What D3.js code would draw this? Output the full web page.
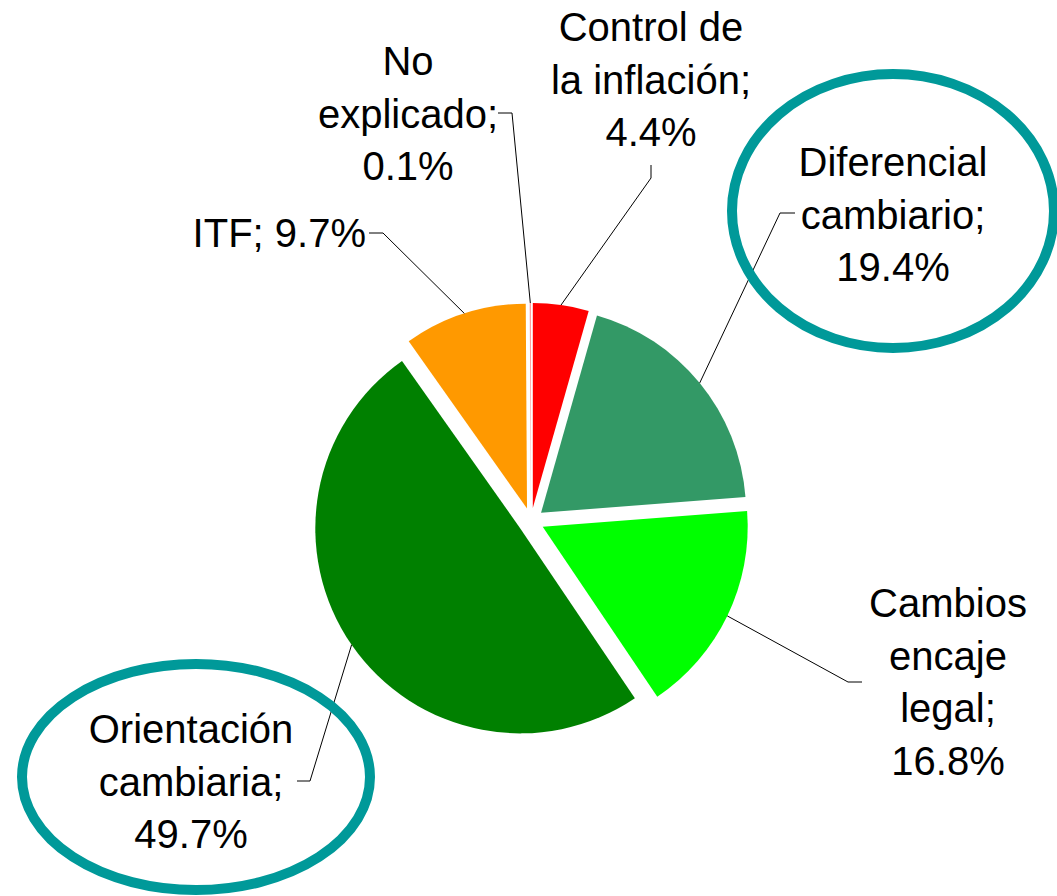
<!DOCTYPE html>
<html>
<head>
<meta charset="utf-8">
<script src="https://cdn.jsdelivr.net/npm/d3@7"></script>
<style>
  html, body { margin: 0; padding: 0; background: #fff; }
  svg { display: block; }
  text { font-family: "Liberation Sans", Arial, sans-serif; fill: #000; }
</style>
</head>
<body>
<div id="chart"></div>
<script>
// Slices clockwise from 12 o'clock
const categories = ['Control de la inflación', 'Diferencial cambiario', 'Cambios encaje legal',
  'Orientación cambiaria', 'ITF', 'No explicado'];
const values = [4.4, 19.4, 16.8, 49.7, 9.7, 0.1];
const nameLines = [['Control de', 'la inflación'], ['Diferencial', 'cambiario'], ['Cambios', 'encaje', 'legal'],
  ['Orientación', 'cambiaria'], ['ITF'], ['No', 'explicado']];
const colors = ['#FF0000', '#339966', '#00FF00', '#008000', '#FF9900', '#FF9999'];
const highlighted = ['Diferencial cambiario', 'Orientación cambiaria'];

const W = 1057, H = 896;
const cx = 531, cy = 521, R = 205, explode = 13;
const fontSize = 40, lineH = 52.5;

// label placement: x,y = first baseline, elbow/stub = leader line end near label
const labelLayout = [
  { x: 651, y: 41,  anchor: 'middle', elbow: [651, 178], stub: [651, 165] },
  { x: 893, y: 176, anchor: 'middle', elbow: [780, 213], stub: [795, 213] },
  { x: 948, y: 617, anchor: 'middle', elbow: [848, 682], stub: [862, 682] },
  { x: 191, y: 743, anchor: 'middle', elbow: [310, 781], stub: [297, 781] },
  { x: 366, y: 247, anchor: 'end', inline: true, elbow: [383, 233], stub: [369, 233] },
  { x: 408, y: 75,  anchor: 'middle', elbow: [512, 113], stub: [498, 113] },
];
// highlight ellipses around the two emphasised labels
const ellipseLayout = { 'Diferencial cambiario': { cx: 893, cy: 211, rx: 161, ry: 137 },
  'Orientación cambiaria': { cx: 196, cy: 777, rx: 174, ry: 113 } };

const data = categories.map((c, i) => ({ name: c, value: values[i], lines: nameLines[i], color: colors[i], layout: labelLayout[i] }));

const svg = d3.select('#chart').append('svg').attr('width', W).attr('height', H);

const pie = d3.pie().sort(null).value(d => d.value);
const arc = d3.arc().innerRadius(0).outerRadius(R);
const arcs = pie(data);

const g = svg.append('g').attr('transform', `translate(${cx},${cy})`);

const offset = d => {
  const a = (d.startAngle + d.endAngle) / 2;
  return [Math.sin(a) * explode, -Math.cos(a) * explode];
};

g.selectAll('path.slice')
  .data(arcs)
  .join('path')
  .attr('class', 'slice')
  .attr('transform', d => `translate(${offset(d)})`)
  .attr('d', arc)
  .attr('fill', d => d.data.color);

// Leader lines: from slice edge at mid-angle to label
const fmt = v => v.toFixed(1) + '%';
svg.selectAll('polyline.leader')
  .data(arcs)
  .join('polyline')
  .attr('class', 'leader')
  .attr('fill', 'none')
  .attr('stroke', '#000')
  .attr('stroke-width', 1)
  .attr('points', d => {
    const a = (d.startAngle + d.endAngle) / 2;
    const [ox, oy] = offset(d);
    const sx = cx + ox + Math.sin(a) * R;
    const sy = cy + oy - Math.cos(a) * R;
    const L = d.data.layout;
    return [[sx, sy], L.elbow, L.stub].map(p => p.join(',')).join(' ');
  });

// Ellipses
svg.selectAll('ellipse.hl')
  .data(data.filter(d => highlighted.includes(d.name)))
  .join('ellipse')
  .attr('class', 'hl')
  .attr('cx', d => ellipseLayout[d.name].cx)
  .attr('cy', d => ellipseLayout[d.name].cy)
  .attr('rx', d => ellipseLayout[d.name].rx)
  .attr('ry', d => ellipseLayout[d.name].ry)
  .attr('fill', 'none')
  .attr('stroke', '#009999')
  .attr('stroke-width', 10);

// Labels
const labels = svg.selectAll('text.lbl')
  .data(data)
  .join('text')
  .attr('class', 'lbl')
  .attr('font-size', fontSize)
  .attr('text-anchor', d => d.layout.anchor);

labels.each(function(d) {
  const L = d.layout;
  let lines = d.lines.slice();
  if (L.inline) {
    lines[lines.length - 1] += '; ' + fmt(d.value);
  } else {
    lines[lines.length - 1] += ';';
    lines.push(fmt(d.value));
  }
  d3.select(this).selectAll('tspan')
    .data(lines)
    .join('tspan')
    .attr('x', L.x)
    .attr('y', (_, i) => L.y + i * lineH)
    .text(t => t);
});
</script>
</body>
</html>
